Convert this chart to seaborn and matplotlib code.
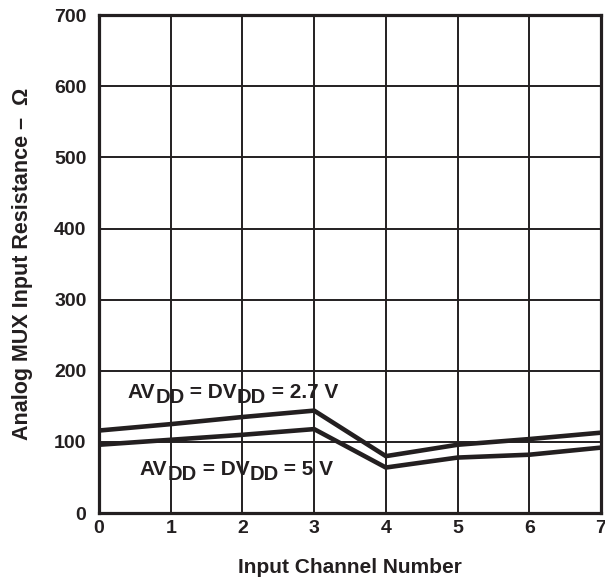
import numpy as np
import pandas as pd
import matplotlib
matplotlib.use('Agg')
import matplotlib.pyplot as plt
import matplotlib.transforms as mtransforms
import seaborn as sns

# data
channels = [0, 1, 2, 3, 4, 5, 6, 7]
res_27v = [116, 125, 135, 144, 80, 96, 104, 113]
res_5v = [96, 103, 110, 118, 64, 78, 82, 92]
supply_labels = [('AV', 'DD', ' = DV', 'DD', ' = 2.7 V'),
                 ('AV', 'DD', ' = DV', 'DD', ' = 5 V')]

INK = '#231f20'

sns.set_style('white')
plt.rcParams['font.family'] = ['Liberation Sans', 'DejaVu Sans']
plt.rcParams['font.weight'] = 'bold'

df = pd.DataFrame({
    'channel': channels * 2,
    'res': res_27v + res_5v,
    'supply': ['2.7 V'] * len(channels) + ['5 V'] * len(channels),
})

fig = plt.figure(figsize=(6.05, 5.83), dpi=100)
ax = fig.add_axes([0.1636, 0.120, 0.8298, 0.854])

sns.lineplot(data=df, x='channel', y='res', hue='supply', palette=[INK, INK],
             linewidth=3.3, legend=False, ax=ax)

ax.set_xlim(0, 7)
ax.set_ylim(0, 700)
ax.set_xticks(range(0, 8))
ax.set_yticks(range(0, 701, 100))
ax.grid(True, color=INK, linewidth=1.4)
ax.set_axisbelow(True)
for s in ax.spines.values():
    s.set_color(INK)
    s.set_linewidth(2.3)
ax.tick_params(length=0, labelsize=14, colors=INK)
ax.tick_params(axis='x', pad=5)
ax.tick_params(axis='y', pad=9)
for lbl in ax.get_xticklabels() + ax.get_yticklabels():
    lbl.set_fontweight('bold')

ax.set_xlabel('Input Channel Number', fontsize=15, fontweight='bold', labelpad=15, color=INK)
ax.set_ylabel('Analog MUX Input Resistance –  Ω', fontsize=15.5, fontweight='bold', labelpad=15, color=INK)


# labels with big, dropped subscripts, placed piece by piece
def label(x, y, pieces):
    renderer = fig.canvas.get_renderer()
    trans = ax.transData
    for i, piece in enumerate(pieces):
        dy = -5 if i % 2 == 1 else 0
        t = ax.text(x, y, piece, fontsize=14.5 if i % 2 == 1 else 15, fontweight='bold',
                    color=INK, va='baseline', ha='left',
                    transform=mtransforms.offset_copy(trans, fig=fig, x=0, y=dy, units='dots'))
        w = t.get_window_extent(renderer=renderer).width
        trans = mtransforms.offset_copy(trans, fig=fig, x=w, y=0, units='dots')


label(0.40, 162, supply_labels[0])
label(0.57, 53, supply_labels[1])

plt.savefig('out.png', dpi=100)
